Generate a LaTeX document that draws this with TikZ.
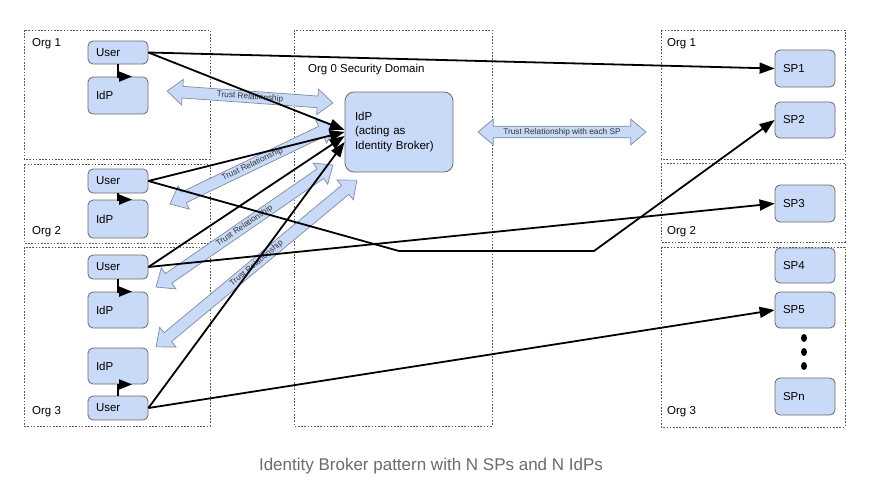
\documentclass[tikz,border=0pt]{standalone}
\usepackage{fontspec}
\setmainfont{Liberation Sans}
\usetikzlibrary{shapes.arrows, arrows.meta, calc}

\definecolor{boxblue}{HTML}{C9DAF8}
\definecolor{boxline}{HTML}{6A6A6A}
\definecolor{trustline}{HTML}{7F8BA0}
\definecolor{frameline}{HTML}{5A5A5A}
\definecolor{captiongray}{HTML}{6B6B6B}

\begin{document}
\begin{tikzpicture}[
    x=1pt, y=-1pt,
    box/.style={
        rectangle,
        rounded corners=5pt,
        draw=boxline,
        fill=boxblue,
        line width=0.8pt,
        minimum width=60pt,
        text width=44pt,
        inner xsep=8pt,
        align=left,
        font=\fontsize{11.5}{13}\selectfont
    },
    orgframe/.style={draw=frameline, line width=0.6pt, dash pattern=on 1.6pt off 1.6pt},
    orglabel/.style={anchor=west, inner sep=0pt, font=\fontsize{11.5}{13}\selectfont},
    trust/.style={
        double arrow,
        draw=trustline,
        fill=boxblue,
        line width=0.7pt,
        minimum width=24pt,
        double arrow head extend=7pt,
        double arrow tip angle=80,
        inner xsep=0pt,
        inner ysep=1.6pt,
        text=black!80,
        font=\fontsize{8.3}{9}\selectfont
    },
    flow/.style={line width=1.8pt, -{Triangle[length=15pt, width=11pt]}},
    hook/.style={line width=1.8pt, -{Triangle[length=13pt, width=10pt]}}
]
\useasboundingbox (0,0) rectangle (890,499);

% security domains
\draw[orgframe] (24,30) rectangle (210,159);
\draw[orgframe] (24,164) rectangle (210,243);
\draw[orgframe] (24,247) rectangle (210,426);
\draw[orgframe] (294,30) rectangle (492,426);
\draw[orgframe] (661,30) rectangle (845,159);
\draw[orgframe] (661,163) rectangle (845,242);
\draw[orgframe] (661,247) rectangle (845,427);

\node[orglabel] (org1l) at (32,44) {Org 1};
\node[orglabel] (org2l) at (32,232) {Org 2};
\node[orglabel] (org3l) at (32,412) {Org 3};
\node[orglabel] (org0) at (308,70) {Org 0 Security Domain};
\node[orglabel] (org1r) at (667,44) {Org 1};
\node[orglabel] (org2r) at (667,232) {Org 2};
\node[orglabel] (org3r) at (667,412) {Org 3};

% users and their IdPs
\node[box, minimum height=23pt] (user1) at (118,52.5) {User};
\node[box, minimum height=37pt] (idp1) at (118,95.5) {IdP};
\node[box, minimum height=24pt] (user2) at (118,181) {User};
\node[box, minimum height=38pt] (idp2) at (118,219) {IdP};
\node[box, minimum height=24pt] (user3) at (118,267) {User};
\node[box, minimum height=36pt] (idp3) at (118,310) {IdP};
\node[box, minimum height=36pt] (idp4) at (118,366) {IdP};
\node[box, minimum height=24pt] (user4) at (118,408) {User};

% broker
\node[box, minimum width=108pt, text width=88pt, inner xsep=10pt, minimum height=80pt,
      rounded corners=9pt, font=\fontsize{11.5}{14.5}\selectfont] (broker) at (399,132)
      {IdP\\(acting as\\Identity Broker)};

% service providers
\node[box, minimum height=37pt] (sp1) at (805,68.5) {SP1};
\node[box, minimum height=36pt] (sp2) at (805,120) {SP2};
\node[box, minimum height=37pt] (sp3) at (805,203.5) {SP3};
\node[box, minimum height=35pt] (sp4) at (805,265.5) {SP4};
\node[box, minimum height=36pt] (sp5) at (805,310) {SP5};
\node[box, minimum height=37pt] (spn) at (805,396.5) {SPn};

\fill (804,338) ellipse (3 and 4);
\fill (804,352) ellipse (3 and 4);
\fill (804,366) ellipse (3 and 4);

% trust relationships
\node[trust, rotate=-4.1, minimum height=166pt] (trust1) at (250,97) {Trust Relationship};
\node[trust, rotate=25.6, minimum height=183pt] (trust2) at (252.5,164.5) {Trust Relationship};
\node[trust, rotate=34.6, minimum height=215pt] (trust3) at (244.5,226) {Trust Relationship};
\node[trust, rotate=39.7, minimum height=261pt] (trust4) at (256.5,263.5) {Trust Relationship};
\node[trust, minimum height=168pt] (trust5) at (562,132) {Trust Relationship with each SP};

% user to own IdP
\draw[hook] (user1.south) |- ($(user1.south |- idp1.north)+(14,0)$);
\draw[hook] (user2.south) |- ($(user2.south |- idp2.north)+(14,0)$);
\draw[hook] (user3.south) |- ($(user3.south |- idp3.north)+(14,0)$);
\draw[hook] (user4.north) |- ($(user4.north |- idp4.south)+(14,0)$);

% flows
\coordinate (bend1) at (399,251);
\coordinate (bend2) at (594,251);
\draw[flow] (user1.east) -- (sp1.west);
\draw[flow] (user1.east) -- ($(broker.west)+(0,-2)$);
\draw[flow] (user2.east) -- (broker.west);
\draw[flow] (user2.east) -- (bend1) -- (bend2) -- (sp2.west);
\draw[flow] (user3.east) -- ($(broker.west)+(0,4)$);
\draw[flow] (user3.east) -- (sp3.west);
\draw[flow] (user4.east) -- ($(broker.west)+(0,10)$);
\draw[flow] (user4.east) -- (sp5.west);

\node[text=captiongray, font=\fontsize{17}{19}\selectfont] (caption) at (431,466)
    {Identity Broker pattern with N SPs and N IdPs};

\end{tikzpicture}
\end{document}
